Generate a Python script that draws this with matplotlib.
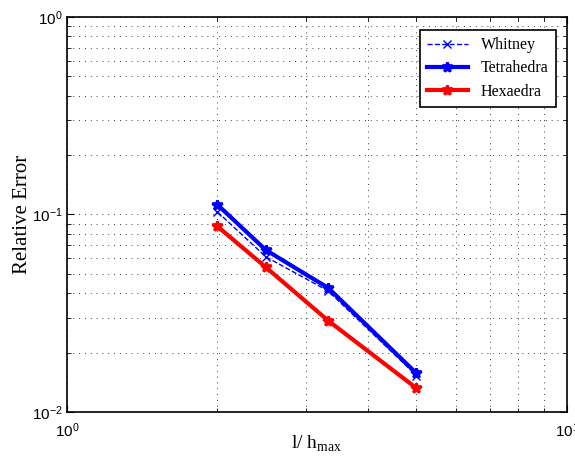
import numpy as np
import matplotlib
matplotlib.use('Agg')
import matplotlib.pyplot as plt
from matplotlib.ticker import NullFormatter

# mesh refinement (1/h_max) and relative errors
inv_h = [2.0, 2.5, 3.33, 5.0]
err_whitney = [0.103, 0.061, 0.041, 0.0153]
err_tetra = [0.112, 0.066, 0.0425, 0.0157]
err_hexa = [0.087, 0.054, 0.029, 0.0132]

plt.rcParams['font.family'] = ['Liberation Sans', 'DejaVu Sans']
plt.rcParams['mathtext.fontset'] = 'custom'
plt.rcParams['mathtext.rm'] = 'Liberation Serif'

fig = plt.figure(figsize=(5.75, 4.58), dpi=100)
ax = fig.add_axes([0.1165, 0.1004, 0.8695, 0.8626])

ax.loglog(inv_h, err_whitney, '--', color='blue', lw=1, marker='x', ms=6, mew=1, label='Whitney')
ax.loglog(inv_h, err_tetra, '-', color='blue', lw=3, marker='*', ms=7, mew=2, label='Tetrahedra')
ax.loglog(inv_h, err_hexa, '-', color='red', lw=3, marker='*', ms=7, mew=2, label='Hexaedra')

ax.set_xlim(1, 10)
ax.set_ylim(1e-2, 1)
ax.xaxis.set_minor_formatter(NullFormatter())
ax.yaxis.set_minor_formatter(NullFormatter())
ax.grid(True, which='both', linestyle=(0, (1, 6)), color='black', lw=0.6)
ax.tick_params(which='both', direction='in', top=True, right=True, labelsize=11)
ax.tick_params(which='major', length=5)
ax.tick_params(axis='x', which='major', pad=7)
ax.tick_params(axis='y', which='major', pad=3)
ax.tick_params(which='minor', length=3)
for s in ax.spines.values():
    s.set_linewidth(1.2)

ax.set_ylabel('Relative Error', family='Liberation Serif', fontsize=15)
ax.set_xlabel(r'l/ h$_{\rm max}$', family='Liberation Serif', fontsize=14)
ax.yaxis.set_label_coords(-0.07, 0.5)
ax.xaxis.set_label_coords(0.5, -0.056)

leg = ax.legend(loc='upper right', fancybox=False, edgecolor='black', framealpha=1,
                prop={'family': 'Liberation Serif', 'size': 11.5}, borderpad=0.45,
                labelspacing=0.45, handlelength=2.6, borderaxespad=0,
                bbox_to_anchor=(0.978, 0.967))
leg.get_frame().set_linewidth(1.2)

plt.savefig('out.png', dpi=100)
